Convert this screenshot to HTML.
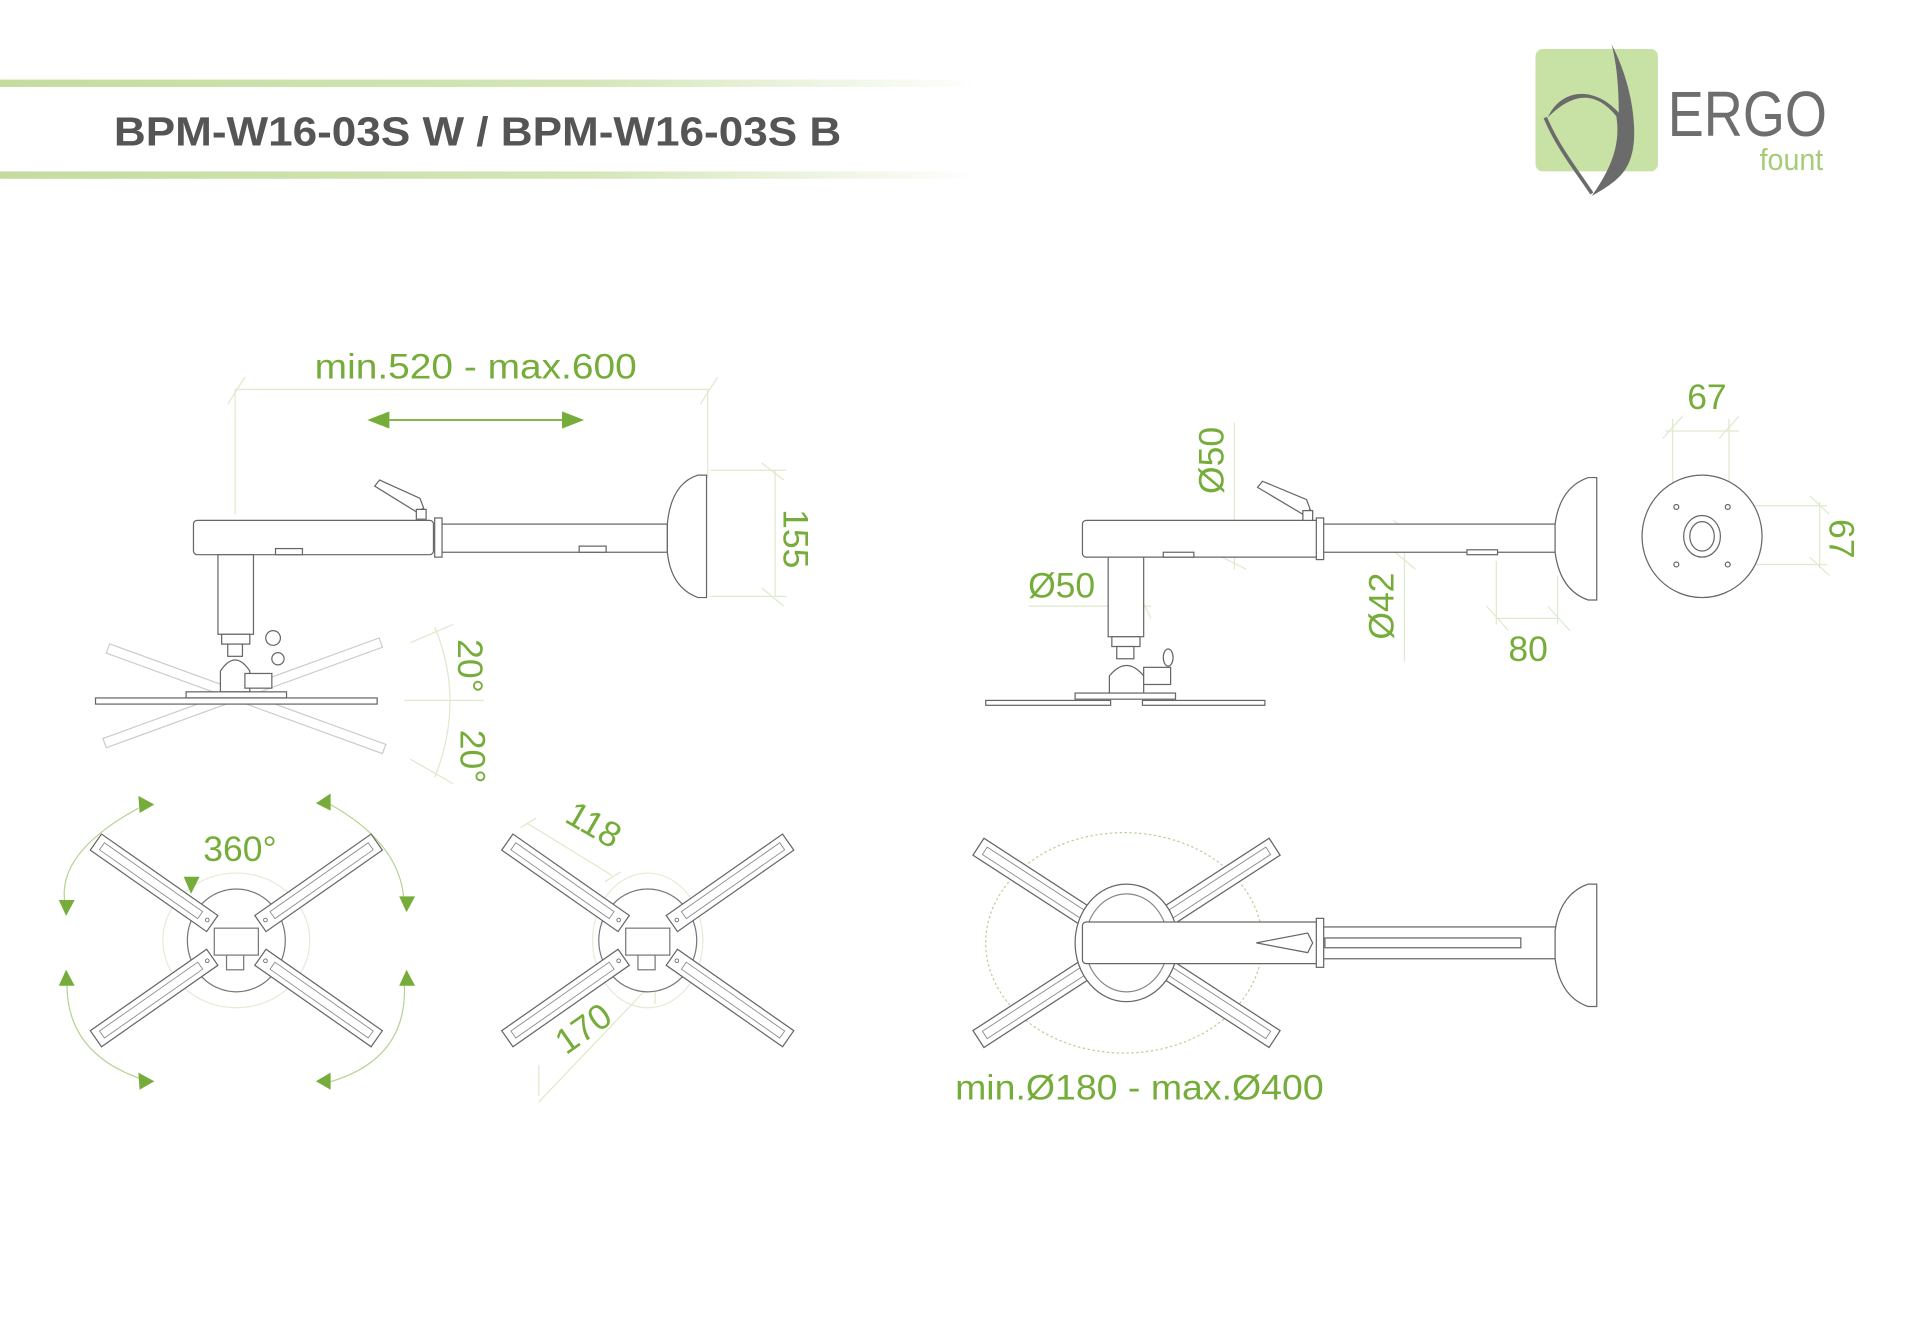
<!DOCTYPE html>
<html><head><meta charset="utf-8"><style>
html,body{margin:0;padding:0;background:#fff;}
svg{display:block;}
text{font-family:"Liberation Sans",sans-serif;}
</style></head><body>
<svg width="1920" height="1344" viewBox="0 0 1568 1097.6" xmlns="http://www.w3.org/2000/svg">
<defs>
<linearGradient id="gl" x1="0" x2="1" y1="0" y2="0">
<stop offset="0" stop-color="#c3dc9e"/><stop offset="0.6" stop-color="#d4e6b8"/><stop offset="1" stop-color="#ffffff"/>
</linearGradient>
<g id="arm">
<rect x="24" y="-8" width="116" height="16" fill="#fff" stroke="#666" stroke-width="1"/>
<rect x="36" y="-3.5" width="98" height="7" fill="none" stroke="#888" stroke-width="0.7"/>
<circle cx="29" cy="0" r="1.5" fill="none" stroke="#666" stroke-width="0.7"/>
</g>
</defs>
<rect width="1568" height="1098" fill="#fff"/>
<!-- header -->
<rect x="0" y="65" width="800" height="6" fill="url(#gl)"/>
<rect x="0" y="140" width="800" height="6" fill="url(#gl)"/>
<text x="93" y="119" font-size="33" font-weight="bold" fill="#555" textLength="594" lengthAdjust="spacingAndGlyphs">BPM-W16-03S W / BPM-W16-03S B</text>
<!-- logo -->
<rect x="1254" y="40" width="100" height="100" rx="6" fill="#c8e2a6"/>
<path d="M1316 36 C1334 70,1338 110,1332 128 C1328 142,1318 150,1300 160 C1314 140,1324 120,1320 95 C1300 70,1280 80,1264 96 C1275 72,1302 70,1322 92 C1322 70,1320 50,1316 36 Z" fill="#6b6b6b"/>
<path d="M1262 96 C1272 120,1288 140,1300 158" stroke="#6b6b6b" stroke-width="3" fill="none"/>
<text x="1362" y="111" font-size="52" fill="#6e6e6e" textLength="130" lengthAdjust="spacingAndGlyphs">ERGO</text>
<text x="1437" y="139" font-size="25" fill="#a6cc78" textLength="52" lengthAdjust="spacingAndGlyphs">fount</text>

<g fill="none" stroke="#dfe9cc" stroke-width="1">
<line x1="192" y1="318" x2="580" y2="318"/>
<line x1="192" y1="318" x2="192" y2="420"/>
<line x1="578" y1="318" x2="578" y2="390"/>
<line x1="186" y1="330" x2="200" y2="308"/><line x1="572" y1="330" x2="586" y2="308"/>
<line x1="580" y1="384" x2="642" y2="384"/><line x1="580" y1="487" x2="642" y2="487"/>
<line x1="633" y1="384" x2="633" y2="487"/>
<line x1="622" y1="378" x2="640" y2="392"/><line x1="622" y1="480" x2="640" y2="495"/>
<line x1="330" y1="572" x2="395" y2="572"/>
<path d="M355 512 Q380 572 355 635"/>
<line x1="335" y1="525" x2="370" y2="510"/><line x1="335" y1="620" x2="370" y2="640"/>
<line x1="1008" y1="345" x2="1008" y2="465"/>
<line x1="998" y1="430" x2="1018" y2="440"/><line x1="998" y1="455" x2="1018" y2="465"/>
<line x1="840" y1="495" x2="940" y2="495"/>
<line x1="905" y1="485" x2="915" y2="505"/><line x1="930" y1="485" x2="940" y2="505"/>
<line x1="1147" y1="430" x2="1147" y2="540"/>
<line x1="1138" y1="425" x2="1156" y2="440"/><line x1="1138" y1="450" x2="1156" y2="465"/>
<line x1="1222" y1="458" x2="1222" y2="510"/><line x1="1272" y1="470" x2="1272" y2="510"/>
<line x1="1222" y1="505" x2="1272" y2="505"/>
<line x1="1214" y1="495" x2="1232" y2="515"/><line x1="1264" y1="495" x2="1282" y2="515"/>
<line x1="1366" y1="342" x2="1366" y2="415"/><line x1="1412" y1="342" x2="1412" y2="415"/>
<line x1="1360" y1="352" x2="1420" y2="352"/>
<line x1="1358" y1="358" x2="1374" y2="340"/><line x1="1404" y1="358" x2="1420" y2="340"/>
<line x1="1412" y1="413" x2="1492" y2="413"/><line x1="1412" y1="461" x2="1492" y2="461"/>
<line x1="1486" y1="410" x2="1486" y2="464"/>
<line x1="1478" y1="405" x2="1494" y2="420"/><line x1="1478" y1="455" x2="1494" y2="470"/>
<line x1="430" y1="672" x2="500" y2="715"/><line x1="440" y1="900" x2="540" y2="795"/>
<line x1="440" y1="870" x2="440" y2="895"/><line x1="535" y1="760" x2="535" y2="820"/>
<line x1="425" y1="676" x2="438" y2="668"/><line x1="494" y1="720" x2="507" y2="712"/>
</g>
<g fill="none" stroke="#b6d394" stroke-width="1">
<path d="M113 660 Q40 700 55 745"/><path d="M268 656 Q330 690 330 740"/>
<path d="M55 795 Q50 860 118 882"/><path d="M330 800 Q335 865 268 884"/>
<ellipse cx="918" cy="770" rx="113" ry="90" stroke-dasharray="2 2"/>
<ellipse cx="193" cy="768" rx="60" ry="55" stroke="#e4ecd8"/>
<ellipse cx="529" cy="768" rx="45" ry="55" stroke="#e4ecd8"/>
</g>
<g fill="#76ad3a">
<polygon points="300,343 318,336 318,350"/><polygon points="477,343 459,336 459,350"/>
<line x1="315" y1="343" x2="462" y2="343" stroke="#76ad3a" stroke-width="1.5"/>
<polygon points="126,657 113,650 114,664"/><polygon points="258,656 270,648 270,662"/>
<polygon points="54,748 48,735 61,735"/><polygon points="332,745 326,732 339,732"/>
<polygon points="54,792 48,805 61,805"/><polygon points="332,792 326,805 339,805"/>
<polygon points="126,883 113,876 114,890"/><polygon points="258,883 270,876 270,890"/>
<polygon points="156,730 150,716 163,716"/>
</g>
<g fill="#76ad3a" font-size="29">
<text x="257" y="309" textLength="263" lengthAdjust="spacingAndGlyphs">min.520 - max.600</text>
<text transform="translate(640 440) rotate(90)" text-anchor="middle">155</text>
<text transform="translate(374 522) rotate(90)">20°</text>
<text transform="translate(376 596) rotate(90)">20°</text>
<text transform="translate(999 376) rotate(-90)" text-anchor="middle">Ø50</text>
<text x="867" y="488" text-anchor="middle">Ø50</text>
<text transform="translate(1138 495) rotate(-90)" text-anchor="middle">Ø42</text>
<text x="1248" y="540" text-anchor="middle">80</text>
<text x="1394" y="334" text-anchor="middle">67</text>
<text transform="translate(1494 440) rotate(90)" text-anchor="middle">67</text>
<text x="196" y="703" text-anchor="middle">360°</text>
<text transform="translate(480 682) rotate(30)" text-anchor="middle">118</text>
<text transform="translate(482 848) rotate(-35)" text-anchor="middle">170</text>
<text x="780" y="898" textLength="301" lengthAdjust="spacingAndGlyphs">min.Ø180 - max.Ø400</text>
</g>
<g fill="#fff" stroke="#666" stroke-width="1">
<g stroke="#ccc">
<rect x="80" y="-4" width="240" height="8" transform="rotate(20 193 572) translate(0 568)"/>
<rect x="80" y="-4" width="240" height="8" transform="rotate(-20 193 572) translate(0 568)"/>
</g>
<rect x="358" y="428" width="187" height="23"/>
<rect x="158" y="425" width="196" height="28" rx="3"/>
<rect x="355" y="423" width="6" height="32"/>
<rect x="225" y="448" width="22" height="5"/><rect x="473" y="446" width="22" height="5"/>
<path d="M545 428 Q548 395 570 388 L577 388 L577 488 L570 488 Q548 480 545 451 Z"/>
<path d="M306 397 L310 392 L343 407 L346 415 L340 418 Z"/>
<rect x="340" y="416" width="8" height="8"/>
<rect x="178" y="453" width="29" height="65"/>
<rect x="181" y="518" width="23" height="8"/>
<rect x="186" y="526" width="12" height="10"/>
<path d="M180 548 Q192 530 204 548 L204 565 L180 565 Z"/>
<rect x="200" y="550" width="22" height="12"/>
<circle cx="223" cy="521" r="6"/><circle cx="227" cy="538" r="5"/>
<rect x="152" y="565" width="82" height="5"/>
<rect x="78" y="570" width="230" height="5"/>
</g>
<g fill="#fff" stroke="#666" stroke-width="1">
<rect x="1080" y="428" width="190" height="23"/>
<rect x="884" y="425" width="193" height="30" rx="3"/>
<rect x="1075" y="423" width="6" height="34"/>
<rect x="950" y="451" width="25" height="4"/><rect x="1198" y="449" width="25" height="4"/>
<path d="M1270 428 Q1274 398 1297 390 L1304 390 L1304 490 L1297 490 Q1274 482 1270 451 Z"/>
<path d="M1027 398 L1031 393 L1067 408 L1070 416 L1064 420 Z"/>
<rect x="1064" y="417" width="8" height="8"/>
<rect x="905" y="455" width="29" height="65"/>
<rect x="908" y="520" width="23" height="8"/>
<rect x="912" y="528" width="14" height="10"/>
<path d="M906 552 Q920 535 934 552 L934 568 L906 568 Z"/>
<rect x="934" y="545" width="22" height="14"/>
<ellipse cx="954" cy="537" rx="4" ry="7"/>
<rect x="878" y="566" width="82" height="5"/>
<rect x="805" y="572" width="102" height="4"/><rect x="933" y="572" width="100" height="4"/>
<ellipse cx="1390" cy="438" rx="49" ry="50"/>
<ellipse cx="1390" cy="438" rx="15" ry="17"/>
<ellipse cx="1390" cy="438" rx="10" ry="12"/>
<circle cx="1369" cy="414" r="2"/><circle cx="1411" cy="414" r="2"/>
<circle cx="1369" cy="461" r="2"/><circle cx="1411" cy="461" r="2"/>
</g>
<g>
<ellipse cx="193" cy="768" rx="40" ry="42" fill="#fff" stroke="#777"/>
<use href="#arm" transform="translate(193 768) rotate(-145)"/>
<use href="#arm" transform="translate(193 768) rotate(-35)"/>
<use href="#arm" transform="translate(193 768) rotate(145)"/>
<use href="#arm" transform="translate(193 768) rotate(35)"/>
<rect x="175" y="758" width="36" height="22" fill="#fff" stroke="#777"/>
<rect x="185" y="780" width="14" height="12" fill="#fff" stroke="#777"/>
<ellipse cx="529" cy="768" rx="40" ry="42" fill="#fff" stroke="#777"/>
<use href="#arm" transform="translate(529 768) rotate(-145)"/>
<use href="#arm" transform="translate(529 768) rotate(-35)"/>
<use href="#arm" transform="translate(529 768) rotate(145)"/>
<use href="#arm" transform="translate(529 768) rotate(35)"/>
<rect x="511" y="758" width="36" height="22" fill="#fff" stroke="#777"/>
<rect x="521" y="780" width="14" height="12" fill="#fff" stroke="#777"/>
<use href="#arm" transform="translate(920 770) rotate(-147) scale(1.03)"/>
<use href="#arm" transform="translate(920 770) rotate(-33) scale(1.03)"/>
<use href="#arm" transform="translate(920 770) rotate(147) scale(1.03)"/>
<use href="#arm" transform="translate(920 770) rotate(33) scale(1.03)"/>
<ellipse cx="920" cy="770" rx="42" ry="48" fill="#fff" stroke="#666"/>
<ellipse cx="920" cy="770" rx="34" ry="40" fill="none" stroke="#888"/>
<g fill="#fff" stroke="#666">
<rect x="1080" y="757" width="192" height="26"/>
<rect x="1082" y="766" width="160" height="8" fill="none"/>
<rect x="884" y="753" width="193" height="34" rx="3"/>
<rect x="1075" y="750" width="6" height="40"/>
<path d="M1026 770 L1068 762 L1072 770 L1068 778 Z"/>
<path d="M1270 760 Q1274 730 1297 722 L1304 722 L1304 822 L1297 822 Q1274 814 1270 783 Z"/>
</g>
</g>
</svg>
</body></html>
